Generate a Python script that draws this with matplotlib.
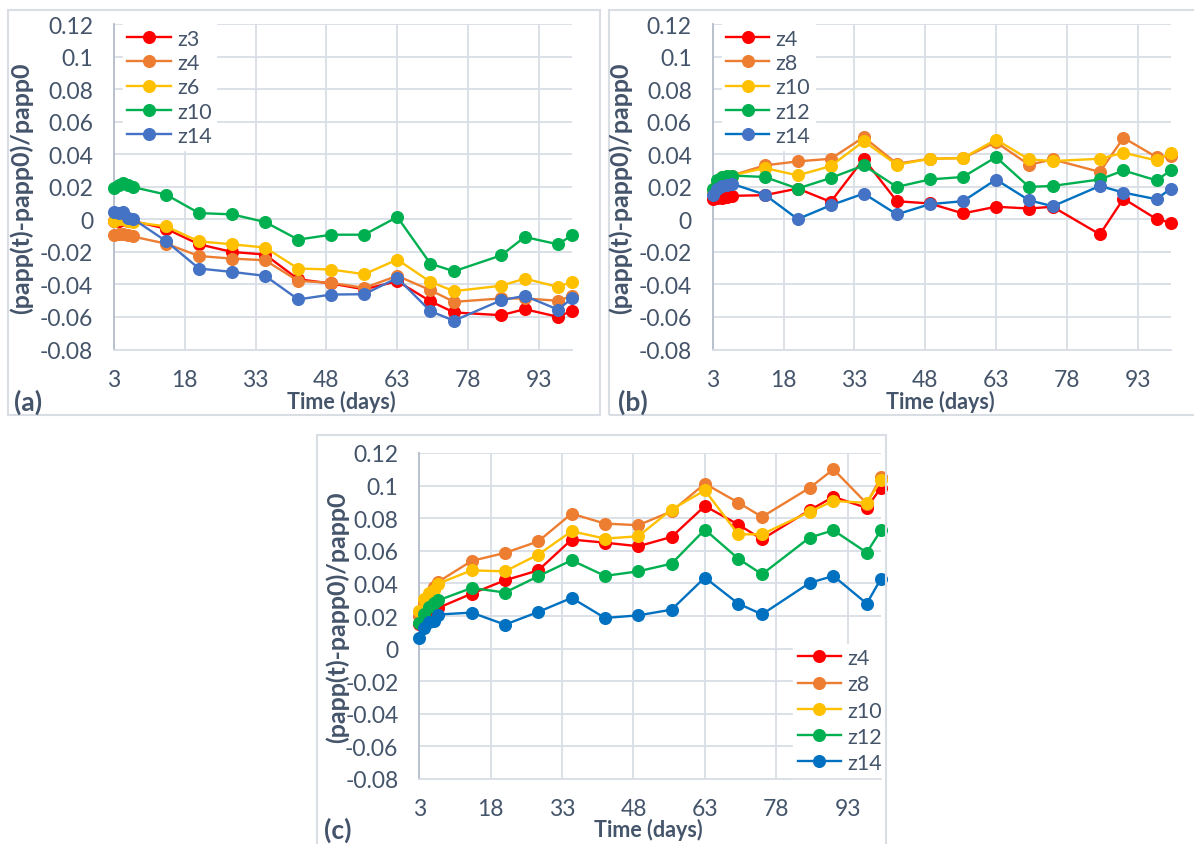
import matplotlib
matplotlib.use("Agg")
import matplotlib.pyplot as plt
from matplotlib.patches import Rectangle

plt.rcParams['font.family'] = ['Lato', 'DejaVu Sans']

days = [3, 4, 5, 6, 7, 14, 21, 28, 35, 42, 49, 56, 63, 70, 75, 85, 90, 97, 100]
x_ticks = [3, 18, 33, 48, 63, 78, 93]
y_ticks = [-0.08, -0.06, -0.04, -0.02, 0, 0.02, 0.04, 0.06, 0.08, 0.1, 0.12]

# Panel (a)
a_labels = ['z3', 'z4', 'z6', 'z10', 'z14']
a_z3 = [-0.001, -0.001, 0.000, -0.001, -0.001, -0.0057, -0.0153, -0.020, -0.0216, -0.0368,
        -0.0394, -0.043, -0.038, -0.0503, -0.0572, -0.0589, -0.0552, -0.0599, -0.0562]
a_z4 = [-0.0095, -0.009, -0.009, -0.0095, -0.0105, -0.0149, -0.0225, -0.0241, -0.0251, -0.0378,
        -0.039, -0.0421, -0.0347, -0.0435, -0.0507, -0.0486, -0.0486, -0.050, -0.047]
a_z6 = [-0.001, 0.000, 0.0005, -0.001, -0.0016, -0.0043, -0.0135, -0.0153, -0.0173, -0.0302,
        -0.0308, -0.0337, -0.0247, -0.0384, -0.0441, -0.0408, -0.0364, -0.0415, -0.0384]
a_z10 = [0.0193, 0.021, 0.0225, 0.021, 0.0199, 0.0153, 0.0039, 0.0031, -0.0016, -0.0124,
         -0.0094, -0.0094, 0.0015, -0.0272, -0.0319, -0.0221, -0.0108, -0.0153, -0.0098]
a_z14 = [0.0045, 0.004, 0.0047, 0.001, 0.0004, -0.0133, -0.0302, -0.0323, -0.0347, -0.0492,
         -0.0462, -0.046, -0.036, -0.0564, -0.0623, -0.0497, -0.047, -0.0554, -0.0486]

# Panel (b)
b_labels = ['z4', 'z8', 'z10', 'z12', 'z14']
b_z4 = [0.0124, 0.013, 0.013, 0.014, 0.0145, 0.0149, 0.019, 0.0108, 0.0373, 0.0112,
        0.0098, 0.0037, 0.0078, 0.0067, 0.0078, -0.0092, 0.0128, 0.0002, -0.002]
b_z8 = [0.017, 0.022, 0.025, 0.026, 0.027, 0.0332, 0.0357, 0.0373, 0.0506, 0.0343,
        0.0373, 0.0377, 0.0475, 0.0336, 0.0369, 0.0292, 0.0502, 0.0383, 0.039]
b_z10 = [0.018, 0.023, 0.026, 0.027, 0.027, 0.0316, 0.0271, 0.0328, 0.0481, 0.0336,
         0.0373, 0.0377, 0.0491, 0.0369, 0.0359, 0.0373, 0.041, 0.0363, 0.041]
b_z12 = [0.019, 0.024, 0.026, 0.027, 0.027, 0.0261, 0.019, 0.0255, 0.0332, 0.020,
         0.0246, 0.0261, 0.0383, 0.020, 0.0206, 0.0246, 0.0301, 0.024, 0.0301]
b_z14 = [0.0153, 0.019, 0.0206, 0.021, 0.022, 0.0153, 0.0002, 0.0087, 0.0159, 0.0031,
         0.0094, 0.0112, 0.0245, 0.0118, 0.0081, 0.0206, 0.0165, 0.0124, 0.019]

# Panel (c)
c_labels = ['z4', 'z8', 'z10', 'z12', 'z14']
c_z4 = [0.0149, 0.019, 0.021, 0.022, 0.025, 0.0337, 0.0419, 0.048, 0.0669, 0.065,
        0.0628, 0.0685, 0.0875, 0.0761, 0.0671, 0.0849, 0.0931, 0.0863, 0.0988]
c_z8 = [0.020, 0.028, 0.033, 0.038, 0.041, 0.0538, 0.0587, 0.0658, 0.0828, 0.0767,
        0.0757, 0.0842, 0.1012, 0.0896, 0.0808, 0.0986, 0.110, 0.089, 0.1053]
c_z10 = [0.0229, 0.0307, 0.034, 0.036, 0.0399, 0.048, 0.0474, 0.0577, 0.072, 0.0675,
         0.0689, 0.0853, 0.0971, 0.0701, 0.0701, 0.0839, 0.0906, 0.0894, 0.1033]
c_z12 = [0.016, 0.0215, 0.0256, 0.0282, 0.0296, 0.0372, 0.0344, 0.0444, 0.0542, 0.0446,
         0.0474, 0.0521, 0.073, 0.0552, 0.0456, 0.0681, 0.0726, 0.0589, 0.0726]
c_z14 = [0.0067, 0.0127, 0.0164, 0.017, 0.0209, 0.0221, 0.0147, 0.0225, 0.0311, 0.0188,
         0.0204, 0.0239, 0.0436, 0.0276, 0.021, 0.0403, 0.0446, 0.0276, 0.0429]

RED, ORANGE, YELLOW, GREEN = '#FF0000', '#ED7D31', '#FFC000', '#00B050'
BLUE_A, BLUE_LINE = '#4472C4', '#0070C0'
TXT = '#44546A'
GRID = '#D9DEE6'
SPINE = '#B4BDCA'
BORDER = '#D9DEE5'

TICK_FS = 16.5
LEG_FS = 15.5
YLAB_FS = 18
XLAB_FS = 15.5
PANEL_FS = 19

W, H = 1194, 845
fig = plt.figure(figsize=(W / 100, H / 100), dpi=100)


def px_axes(x0, y0, x1, y1):
    return fig.add_axes([x0 / W, 1 - y1 / H, (x1 - x0) / W, (y1 - y0) / H])


def fmt(v):
    s = f"{round(v, 2):g}"
    return '0' if s in ('0', '-0') else s


def style(ax):
    ax.set_xlim(3, 100)
    ax.set_ylim(-0.08, 0.12)
    ax.set_xticks(x_ticks)
    ax.set_xticklabels([str(t) for t in x_ticks])
    ax.set_yticks(y_ticks)
    ax.set_yticklabels([fmt(v) for v in y_ticks])
    ax.grid(True, color=GRID, linewidth=1.3)
    ax.set_axisbelow(True)
    for s in ('top', 'right'):
        ax.spines[s].set_visible(False)
    ax.spines['left'].set_color(SPINE)
    ax.spines['bottom'].set_color(GRID)
    ax.spines['left'].set_linewidth(1.3)
    ax.spines['bottom'].set_linewidth(1.3)
    ax.tick_params(length=0, labelsize=TICK_FS, labelcolor=TXT)
    ax.tick_params(axis='y', pad=15)
    ax.tick_params(axis='x', pad=14)


def plot_series(ax, series, labels, colors, mcolors):
    for vals, lab, c, mc in zip(series, labels, colors, mcolors):
        ax.plot(days, vals, '-o', color=c, markerfacecolor=mc, markeredgecolor=mc,
                lw=1.7, ms=8.4, label=lab, clip_on=False, zorder=3)


def add_legend(ax, loc, anchor, spacing):
    leg = ax.legend(loc=loc, bbox_to_anchor=anchor, frameon=True, fontsize=LEG_FS,
                    labelcolor=TXT, handlelength=2.0, handletextpad=0.3,
                    labelspacing=spacing, borderpad=0.2, borderaxespad=0.0,
                    fancybox=False)
    leg.get_frame().set_facecolor('white')
    leg.get_frame().set_edgecolor('white')
    leg.get_frame().set_alpha(1)
    leg.set_zorder(10)
    return leg


# Panel borders
for (x0, y0, x1, y1) in [(8, 11, 600, 416), (609, 11, 1200, 416), (317, 436, 886, 850)]:
    fig.patches.append(Rectangle((x0 / W, 1 - y1 / H), (x1 - x0) / W, (y1 - y0) / H,
                                 transform=fig.transFigure, fill=False,
                                 edgecolor=BORDER, linewidth=1.5))

# (a)
axA = px_axes(114, 25.3, 572, 350.5)
style(axA)
plot_series(axA, [a_z3, a_z4, a_z6, a_z10, a_z14], a_labels,
            [RED, ORANGE, YELLOW, GREEN, BLUE_A], [RED, ORANGE, YELLOW, GREEN, BLUE_A])
add_legend(axA, 'upper left', (0.02, 1.0), 0.2)

# (b)
axB = px_axes(712.7, 25.3, 1170.7, 350.5)
style(axB)
plot_series(axB, [b_z4, b_z8, b_z10, b_z12, b_z14], b_labels,
            [RED, ORANGE, YELLOW, GREEN, BLUE_LINE], [RED, ORANGE, YELLOW, GREEN, BLUE_A])
add_legend(axB, 'upper left', (0.02, 1.0), 0.2)

# (c)
axC = px_axes(419.3, 454, 881, 780)
style(axC)
plot_series(axC, [c_z4, c_z8, c_z10, c_z12, c_z14], c_labels,
            [RED, ORANGE, YELLOW, GREEN, BLUE_LINE], [RED, ORANGE, YELLOW, GREEN, BLUE_LINE])
add_legend(axC, 'upper left', (0.81, 0.415), 0.29)

ylab = '(papp(t)-papp0)/papp0'
for (xc, yc) in [(21, 188), (620, 188), (337, 617)]:
    fig.text(xc / W, 1 - yc / H, ylab, rotation=90, ha='center', va='center',
             fontsize=YLAB_FS, fontweight='bold', color=TXT)
for (xc, yc) in [(341, 402), (940, 402), (648, 830)]:
    fig.text(xc / W, 1 - yc / H, 'Time (days)', ha='center', va='center',
             fontsize=XLAB_FS, fontweight='bold', color=TXT)
for (xl, yc, t) in [(14, 402, '(a)'), (618, 402, '(b)'), (324, 830, '(c)')]:
    fig.text(xl / W, 1 - yc / H, t, ha='left', va='center',
             fontsize=PANEL_FS, fontweight='bold', color=TXT)

fig.savefig('out.png', dpi=100, facecolor='white')
